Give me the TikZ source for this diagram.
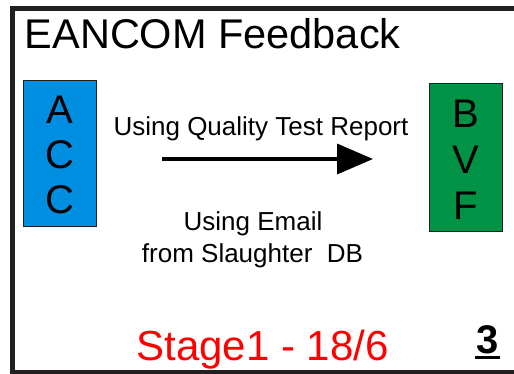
\documentclass[tikz,border=0pt]{standalone}
\usepackage{fontspec}
\setmainfont{Liberation Sans}
\usetikzlibrary{arrows.meta}
\definecolor{framec}{RGB}{35,31,32}
\definecolor{accblue}{RGB}{0,142,224}
\definecolor{bvfgreen}{RGB}{0,147,69}
\definecolor{stagered}{RGB}{255,0,0}
\tikzset{
  x=1pt, y=-1pt,
  frameline/.style={draw=framec, line width=5pt},
  sysbox/.style={draw=framec, line width=1pt, minimum width=73pt, minimum height=146pt, inner sep=0pt},
  letter/.style={anchor=base, inner sep=0pt, font=\fontsize{40}{45}\selectfont},
  caption/.style={anchor=base, inner sep=0pt, font=\fontsize{26}{30}\selectfont},
  flowarrow/.style={draw=black, line width=3.5pt, -{Triangle[length=36pt,width=30pt]}}
}
\begin{document}
\begin{tikzpicture}
\useasboundingbox (0,0) rectangle (514,374);
\fill[white] (0,0) rectangle (514,374);
\draw[frameline] (530,8.5) -- (12,8.5) -- (12,372) -- (530,372);
\node[anchor=base west, inner sep=0pt, font=\fontsize{41.5}{46}\selectfont] (title) at (24.5,49) {EANCOM Feedback};
\node[sysbox, fill=accblue] (acc) at (59.5,154) {};
\node[letter] (acca) at (59.5,124) {A};
\node[letter] (accc) at (59.5,169) {C};
\node[letter] (accd) at (59.5,214) {C};
\node[sysbox, fill=bvfgreen, minimum height=148pt] (bvf) at (465.5,158) {};
\node[letter] (bvfb) at (465.5,128) {B};
\node[letter] (bvfv) at (465.5,174) {V};
\node[letter] (bvff) at (465.5,220) {F};
\node[caption] (qtr) at (261,136) {Using Quality Test Report};
\coordinate (arrs) at (162,159);
\coordinate (arre) at (373,159);
\draw[flowarrow] (arrs) -- (arre);
\node[caption] (email) at (253,231) {Using Email};
\node[caption] (sdb) at (252.5,262) {from Slaughter\ \ DB};
\node[anchor=base, inner sep=0pt, text=stagered, font=\fontsize{42}{48}\selectfont] (stage) at (262.5,360) {Stage1 - 18/6};
\node[anchor=base, inner sep=0pt, font=\fontsize{40}{45}\selectfont\bfseries] (num) at (488,353) {3};
\coordinate (ul1) at (475,357.5);
\coordinate (ul2) at (500,357.5);
\draw[line width=2.5pt] (ul1) -- (ul2);
\end{tikzpicture}
\end{document}
